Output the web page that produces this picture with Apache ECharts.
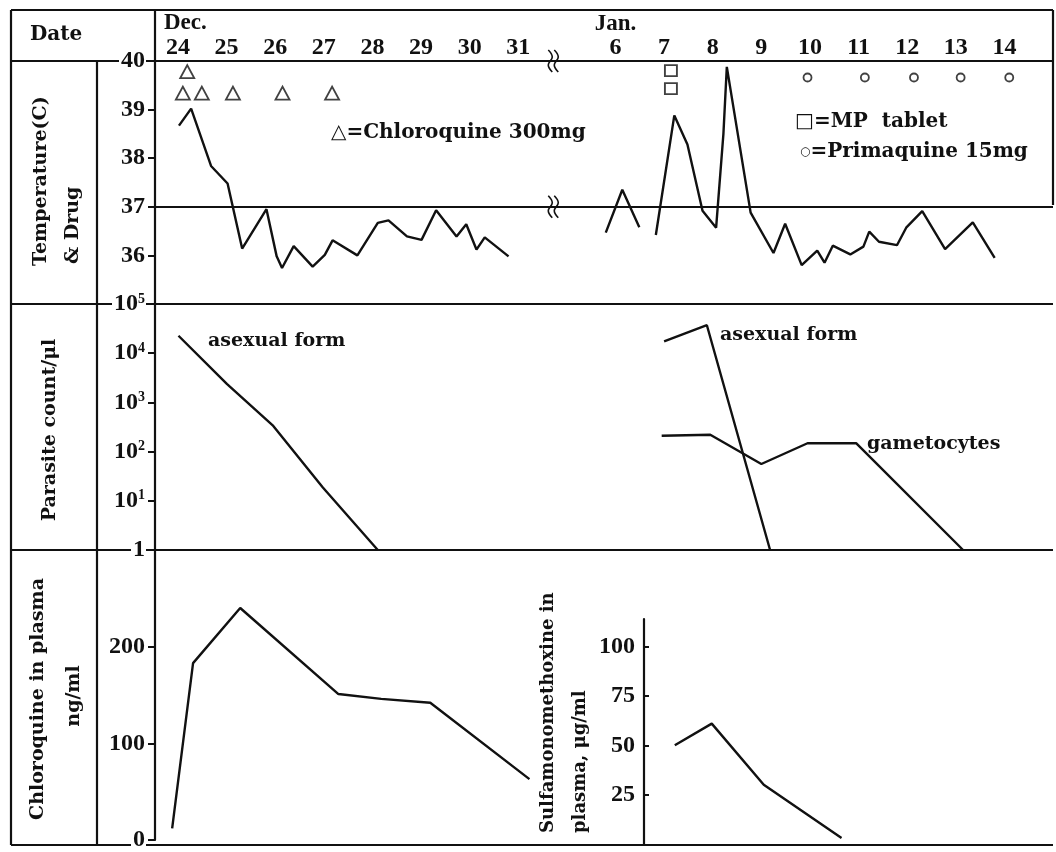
<!DOCTYPE html>
<html lang="en">
<head>
<meta charset="UTF-8">
<title>Temperature, parasites and drug levels</title>
<style>
    html, body { margin: 0; padding: 0; background: #fff; }
    #main { width: 1056px; height: 852px; }
</style>
</head>
<body>
<div id="main"></div>
<script src="https://cdn.jsdelivr.net/npm/echarts@6/dist/echarts.min.js"></script>
<script>
// x is a day index: Dec 24 = 0 ... Dec 31 = 7, (break), Jan 6 = 9 ... Jan 14 = 17
var dayTicks = [0, 1, 2, 3, 4, 5, 6, 7, 9, 10, 11, 12, 13, 14, 15, 16, 17];
var dayNames = ['24', '25', '26', '27', '28', '29', '30', '31', '6', '7', '8', '9', '10', '11', '12', '13', '14'];
var breakDay = 7.72;

// body temperature (C)
var tempDec = [[0.02, 38.67], [0.27, 39.02], [0.68, 37.84], [1.02, 37.48], [1.32, 36.14], [1.82, 36.95],
    [2.03, 35.98], [2.14, 35.74], [2.38, 36.19], [2.77, 35.77], [3.02, 36.01], [3.18, 36.31], [3.69, 36.0],
    [4.11, 36.67], [4.33, 36.72], [4.71, 36.39], [5.01, 36.32], [5.31, 36.93], [5.73, 36.39], [5.93, 36.64],
    [6.14, 36.12], [6.31, 36.37], [6.80, 35.98]];
var tempJanA = [[8.80, 36.47], [9.14, 37.35], [9.49, 36.58]];
var tempJanB = [[9.83, 36.42], [10.21, 38.88], [10.48, 38.28], [10.79, 36.92], [11.07, 36.57], [11.22, 38.5],
    [11.29, 39.88], [11.78, 36.88], [12.25, 36.05], [12.49, 36.65], [12.83, 35.80], [13.15, 36.1], [13.30, 35.85],
    [13.47, 36.2], [13.83, 36.02], [14.10, 36.18], [14.22, 36.49], [14.42, 36.28], [14.79, 36.21], [14.98, 36.57],
    [15.31, 36.91], [15.78, 36.13], [16.35, 36.68], [16.80, 35.95]];

// drug doses, drawn as marks in the temperature panel
var chloroquineDose = [[0.19, 39.78], [0.10, 39.34], [0.49, 39.34], [1.13, 39.34], [2.15, 39.34], [3.17, 39.34]];
var mpTablet = [[10.14, 39.80], [10.14, 39.43]];
var primaquineDose = [[12.95, 39.66], [14.13, 39.66], [15.14, 39.66], [16.1, 39.66], [17.1, 39.66]];

// parasite count / ul (log)
var asexualDec = [[0.01, 22650], [1.01, 2350], [1.96, 333], [2.98, 18.6], [4.11, 1]];
var asexualJan = [[10.0, 17400], [10.88, 37000], [12.18, 1]];
var gametocytes = [[9.95, 210], [10.95, 220], [12.0, 56], [12.95, 148], [13.95, 148], [16.15, 1]];

// drug in plasma
var chloroquinePlasma = [[-0.12, 12], [0.31, 183], [1.28, 240], [3.30, 151], [4.18, 146], [5.19, 142], [7.23, 63]];
var sulfaPlasma = [[10.22, 50], [10.98, 61], [12.05, 30], [13.65, 3]];

var tempTicks = [36, 37, 38, 39, 40];
var chloroTicks = [0, 100, 200];
var sulfaTicks = [25, 50, 75, 100];

var ink = '#111';
var numFont = 'Liberation Serif';

var chart = echarts.init(document.getElementById('main'));

function xAx(grid, extra) {
    var a = {type: 'value', gridIndex: grid, min: -0.473, max: 18.0, show: false};
    return Object.assign(a, extra || {});
}

var yLabel = {
    color: ink, fontFamily: numFont, fontWeight: 'bold', fontSize: 24,
    margin: 9, backgroundColor: '#fff', padding: [0, 1, 0, 2]
};
var yLine = {show: true, onZero: false, lineStyle: {color: ink, width: 2.2}};

function line(x, y, data) {
    return {
        type: 'line', xAxisIndex: x, yAxisIndex: y, data: data, symbol: 'none',
        lineStyle: {color: ink, width: 2.4}, silent: true
    };
}

function marks(data, symbol, size) {
    return {
        type: 'scatter', xAxisIndex: 0, yAxisIndex: 0, data: data, symbol: symbol, symbolSize: size,
        itemStyle: {color: '#fff', borderColor: ink, borderWidth: 1.8}, silent: true
    };
}

function hline(x1, y1, x2, y2) {
    return {type: 'line', z: -1, shape: {x1: x1, y1: y1, x2: x2, y2: y2}, style: {stroke: ink, lineWidth: 2.2}};
}

function txt(x, y, s, font, align, rot) {
    return {
        type: 'text', x: x, y: y, rotation: rot || 0,
        style: {text: s, font: font, fill: ink, align: align || 'left', verticalAlign: 'middle'}
    };
}

var words = 'bold 19px "DejaVu Serif", "DejaVu Sans"';

var option = {
    animation: false,
    backgroundColor: '#fff',
    grid: [
        {left: 155, right: 3, top: 61, height: 243},
        {left: 155, right: 3, top: 304, height: 246},
        {left: 155, right: 3, top: 550, height: 295},
        {left: 155, right: 3, top: 619, height: 225}
    ],
    xAxis: [
        xAx(0, {
            show: true, position: 'top',
            axisLine: {show: false, onZero: false}, axisTick: {show: false}, splitLine: {show: false},
            axisLabel: {
                customValues: dayTicks, margin: 1, color: ink,
                fontFamily: numFont, fontWeight: 'bold', fontSize: 24,
                formatter: function (v) { return dayNames[dayTicks.indexOf(v)]; }
            }
        }),
        xAx(1), xAx(2), xAx(3)
    ],
    yAxis: [
        {
            type: 'value', gridIndex: 0, min: 35, max: 40, interval: 1,
            axisLine: yLine,
            axisTick: {show: true, customValues: tempTicks, length: 7, lineStyle: {color: ink, width: 2}},
            splitLine: {show: false},
            axisLabel: Object.assign({customValues: tempTicks}, yLabel)
        },
        {
            type: 'log', logBase: 10, gridIndex: 1, min: 1, max: 100000,
            axisLine: yLine,
            axisTick: {show: true, length: 7, lineStyle: {color: ink, width: 2}},
            minorTick: {show: false}, splitLine: {show: false},
            axisLabel: Object.assign({
                formatter: function (v) {
                    if (v <= 1) return '1';
                    return '10{sup|' + Math.round(Math.log10(v)) + '}';
                },
                rich: {sup: {fontSize: 14, fontFamily: numFont, fontWeight: 'bold', color: ink, verticalAlign: 'top', padding: [0, 0, 10, 0]}}
            }, yLabel)
        },
        {
            type: 'value', gridIndex: 2, min: 0, max: 300, interval: 100,
            axisLine: yLine,
            axisTick: {show: true, customValues: chloroTicks, length: 7, lineStyle: {color: ink, width: 2}},
            splitLine: {show: false},
            axisLabel: Object.assign({customValues: chloroTicks}, yLabel)
        },
        {
            type: 'value', gridIndex: 3, min: 0, max: 114, offset: -489,
            axisLine: yLine,
            axisTick: {show: true, inside: true, customValues: sulfaTicks, length: 5, lineStyle: {color: ink, width: 2}},
            splitLine: {show: false},
            axisLabel: Object.assign({customValues: sulfaTicks}, yLabel, {margin: 8, backgroundColor: 'transparent'})
        }
    ],
    series: [
        Object.assign(line(0, 0, tempDec), {
            markLine: {
                silent: true, symbol: 'none', label: {show: false},
                lineStyle: {color: ink, width: 2.2, type: 'solid'},
                data: [{yAxis: 37}]
            }
        }),
        line(0, 0, tempJanA),
        line(0, 0, tempJanB),
        marks(chloroquineDose, 'triangle', [14, 13]),
        marks(mpTablet, 'rect', [12, 11]),
        marks(primaquineDose, 'circle', 8),
        line(1, 1, asexualDec),
        line(1, 1, asexualJan),
        line(1, 1, gametocytes),
        line(2, 2, chloroquinePlasma),
        line(3, 3, sulfaPlasma)
    ]
};

chart.setOption(option);

// table frame, labels and the axis-break marks
var decX = chart.convertToPixel({xAxisIndex: 0}, 0);
var janX = chart.convertToPixel({xAxisIndex: 0}, 9);
var brX = chart.convertToPixel({xAxisIndex: 0}, breakDay);
var y40 = chart.convertToPixel({yAxisIndex: 0}, 40);
var y37 = chart.convertToPixel({yAxisIndex: 0}, 37);

function squiggle(x, y) {
    var els = [];
    [-3, 3].forEach(function (dx) {
        els.push({
            type: 'polyline', z: 5,
            shape: {points: [[x + dx - 2, y - 11], [x + dx + 2, y - 4], [x + dx - 2, y + 4], [x + dx + 2, y + 11]], smooth: 0.4},
            style: {stroke: ink, lineWidth: 1.6, fill: null}
        });
    });
    return els;
}

var graphics = [
    hline(11, 10, 1053, 10),
    hline(11, 10, 11, 845),
    hline(1053, 10, 1053, 205),
    hline(11, 61, 1053, 61),
    hline(97, 61, 97, 845),
    hline(11, 304, 1053, 304),
    hline(11, 550, 1053, 550),
    hline(11, 845, 1053, 845),
    hline(155, 10, 155, 61),

    txt(30, 35, 'Date', 'bold 20px "DejaVu Serif"'),
    txt(decX - 14, 23, 'Dec.', 'bold 23px "Liberation Serif"'),
    txt(janX, 24, 'Jan.', 'bold 23px "Liberation Serif"', 'center'),

    txt(41, 266, 'Temperature(C)', words, 'left', Math.PI / 2),
    txt(73, 264, '& Drug', words, 'left', Math.PI / 2),
    txt(50, 430, 'Parasite count/\u03bcl', words, 'center', Math.PI / 2),
    txt(38, 699, 'Chloroquine in plasma', words, 'center', Math.PI / 2),
    txt(74, 696, 'ng/ml', words, 'center', Math.PI / 2),
    txt(548, 833, 'Sulfamonomethoxine in', 'bold 18px "DejaVu Serif"', 'left', Math.PI / 2),
    txt(580, 833, 'plasma, \u03bcg/ml', 'bold 18px "DejaVu Serif"', 'left', Math.PI / 2),

    txt(331, 133, '\u25b3=Chloroquine 300mg', 'bold 20px "DejaVu Serif", "DejaVu Sans"'),
    txt(795, 122, '\u25a1=MP  tablet', 'bold 20px "DejaVu Serif", "DejaVu Sans"'),
    {
        type: 'text', x: 800, y: 152,
        style: {
            text: '{c|\u25cb}=Primaquine 15mg', font: 'bold 20px "DejaVu Serif", "DejaVu Sans"', fill: ink,
            align: 'left', verticalAlign: 'middle',
            rich: {c: {fontSize: 12, fontWeight: 'bold', fill: ink, fontFamily: 'DejaVu Sans'}}
        }
    },

    txt(208, 341, 'asexual form', words),
    txt(720, 335, 'asexual form', words),
    txt(867, 444, 'gametocytes', words)
].concat(squiggle(brX, y40), squiggle(brX, y37));

chart.setOption({graphic: graphics});
</script>
</body>
</html>
